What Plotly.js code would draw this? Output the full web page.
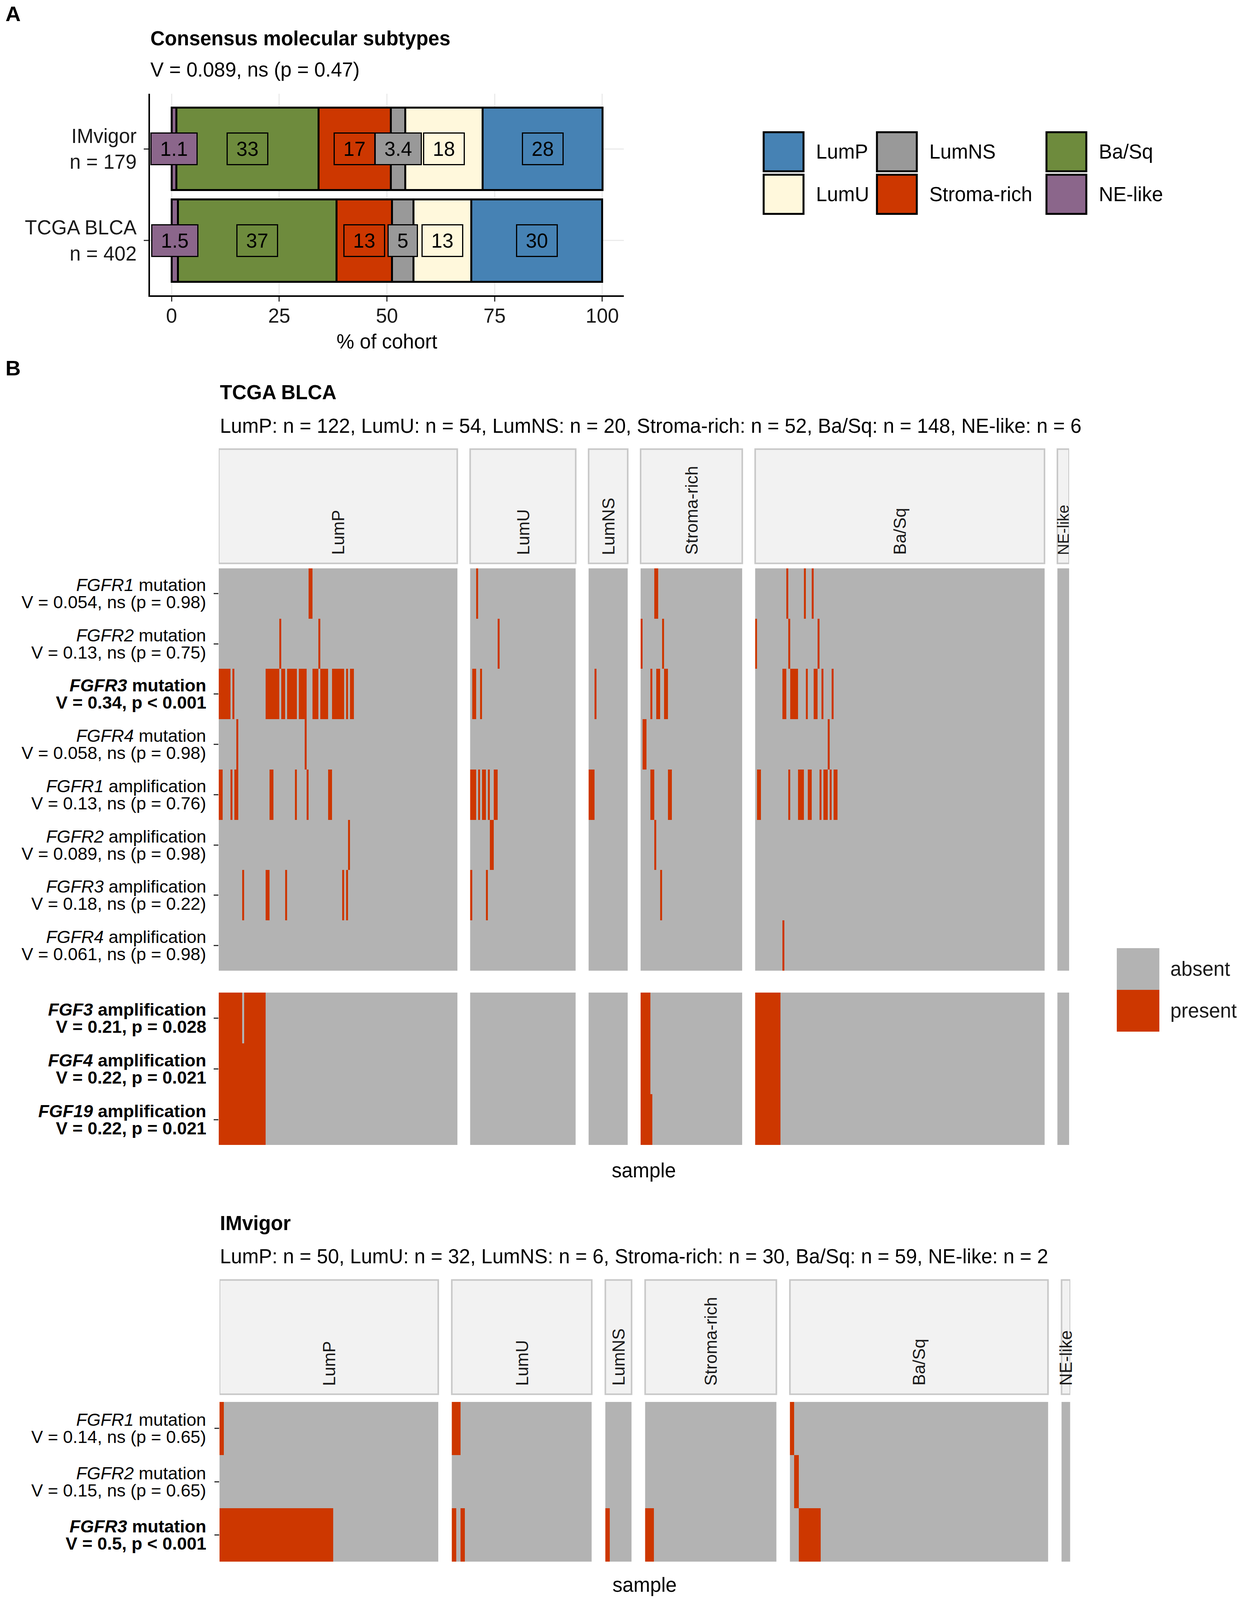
<!DOCTYPE html>
<html>
<head>
<meta charset="utf-8">
<script src="https://cdn.plot.ly/plotly-3.0.1.min.js"></script>
<style>html,body{margin:0;padding:0;background:#fff;overflow:hidden;}</style>
</head>
<body>
<div id="chart"></div>
<script>
// ================= DATA =================
// Panel A: % of cohort per consensus subtype (stack order left -> right)
const barCohorts = ['TCGA BLCA', 'IMvigor'];
const barCohortN = [402, 179];
const barSubtypes = ['NE-like', 'Ba/Sq', 'Stroma-rich', 'LumNS', 'LumU', 'LumP'];
const pctTCGA = [1.5, 36.8, 12.9, 5.0, 13.4, 30.4];
const pctIMvigor = [1.1, 33.0, 16.8, 3.4, 17.9, 27.9];
const legendSubtypes = ['LumP', 'LumU', 'LumNS', 'Stroma-rich', 'Ba/Sq', 'NE-like'];

// Panel B: samples per subtype (facet order)
const heatSubtypes = ['LumP', 'LumU', 'LumNS', 'Stroma-rich', 'Ba/Sq', 'NE-like'];
const tcgaCounts = [122, 54, 20, 52, 148, 6];
const imvigorCounts = [50, 32, 6, 30, 59, 2];

// TCGA row labels
const tcgaGenes = ['FGFR1', 'FGFR2', 'FGFR3', 'FGFR4', 'FGFR1', 'FGFR2', 'FGFR3', 'FGFR4'];
const tcgaKinds = ['mutation', 'mutation', 'mutation', 'mutation', 'amplification', 'amplification', 'amplification', 'amplification'];
const tcgaStats = ['V = 0.054, ns (p = 0.98)', 'V = 0.13, ns (p = 0.75)', 'V = 0.34, p &lt; 0.001', 'V = 0.058, ns (p = 0.98)',
                   'V = 0.13, ns (p = 0.76)', 'V = 0.089, ns (p = 0.98)', 'V = 0.18, ns (p = 0.22)', 'V = 0.061, ns (p = 0.98)'];
const tcgaBold = [false, false, true, false, false, false, false, false];
const fgfGenes = ['FGF3', 'FGF4', 'FGF19'];
const fgfKinds = ['amplification', 'amplification', 'amplification'];
const fgfStats = ['V = 0.21, p = 0.028', 'V = 0.22, p = 0.021', 'V = 0.22, p = 0.021'];
const fgfBold = [true, true, true];
const imvGenes = ['FGFR1', 'FGFR2', 'FGFR3'];
const imvKinds = ['mutation', 'mutation', 'mutation'];
const imvStats = ['V = 0.14, ns (p = 0.65)', 'V = 0.15, ns (p = 0.65)', 'V = 0.5, p &lt; 0.001'];
const imvBold = [false, false, true];

// TCGA: sample indices (0..401, ordered LumP, LumU, LumNS, Stroma-rich, Ba/Sq, NE-like) with alteration present
const tcgaFGFR1mut = [46, 47, 125, 203, 204, 264, 273, 277];
const tcgaFGFR2mut = [31, 51, 136, 196, 207, 248, 265, 280];
const tcgaFGFR3mut = [0, 1, 2, 3, 4, 5, 7, 24, 25, 26, 27, 28, 29, 30, 32, 33, 35, 36, 37, 38, 39, 41, 42, 43, 44,
                      48, 49, 50, 52, 53, 54, 55, 58, 59, 60, 61, 62, 63, 65, 67, 68,
                      123, 124, 127, 179, 201, 204, 205, 208, 209,
                      262, 263, 266, 267, 268, 269, 274, 278, 279, 282, 287];
const tcgaFGFR4mut = [9, 44, 197, 198, 285];
const tcgaFGFR1amp = [0, 1, 6, 8, 9, 26, 27, 39, 45, 56, 57,
                      122, 123, 124, 126, 128, 129, 131, 134, 135, 176, 177, 178, 201, 202, 210, 211,
                      249, 250, 265, 270, 271, 272, 275, 276, 281, 283, 284, 286, 288, 289];
const tcgaFGFR2amp = [66, 132, 133, 203];
const tcgaFGFR3amp = [12, 24, 25, 34, 63, 65, 122, 130, 206];
const tcgaFGFR4amp = [262];
const tcgaFGF3amp = [0, 1, 2, 3, 4, 5, 6, 7, 8, 9, 10, 11, 13, 14, 15, 16, 17, 18, 19, 20, 21, 22, 23,
                     196, 197, 198, 199, 200, 248, 249, 250, 251, 252, 253, 254, 255, 256, 257, 258, 259, 260];
const tcgaFGF4amp = [0, 1, 2, 3, 4, 5, 6, 7, 8, 9, 10, 11, 12, 13, 14, 15, 16, 17, 18, 19, 20, 21, 22, 23,
                     196, 197, 198, 199, 200, 248, 249, 250, 251, 252, 253, 254, 255, 256, 257, 258, 259, 260];
const tcgaFGF19amp = [0, 1, 2, 3, 4, 5, 6, 7, 8, 9, 10, 11, 12, 13, 14, 15, 16, 17, 18, 19, 20, 21, 22, 23,
                      196, 197, 198, 199, 200, 201, 248, 249, 250, 251, 252, 253, 254, 255, 256, 257, 258, 259, 260];

// IMvigor: sample indices (0..178, same subtype order)
const imvFGFR1mut = [0, 50, 51, 118];
const imvFGFR2mut = [119];
const imvFGFR3mut = [0, 1, 2, 3, 4, 5, 6, 7, 8, 9, 10, 11, 12, 13, 14, 15, 16, 17, 18, 19, 20, 21, 22, 23, 24, 25,
                     50, 52, 82, 88, 89, 120, 121, 122, 123, 124];

// ================= STYLE / LAYOUT =================
const REF_W = 3177, REF_H = 4175;
const VW = Math.min(REF_W, window.innerWidth || REF_W);
const VH = Math.min(REF_H, window.innerHeight || REF_H);
const px = v => v / REF_W;
const py = v => 1 - v / REF_H;
const FONT = 'Liberation Sans, Arial, Helvetica, sans-serif';
const RED = '#CD3700', GRAY = '#B3B3B3';
const subtypeColor = {'LumP': '#4682B4', 'LumU': '#FFF8DC', 'LumNS': '#999999',
                      'Stroma-rich': '#CD3700', 'Ba/Sq': '#6E8B3D', 'NE-like': '#8B668B'};
const TG = 6.6;   // facet gap (in samples) TCGA
const IG = 3.1;   // facet gap (in samples) IMvigor

const chartDiv = document.getElementById('chart');
chartDiv.style.width = VW + 'px';
chartDiv.style.height = VH + 'px';

const traces = [];
const annotations = [];
const shapes = [];

// ---------- Panel A bars ----------
const pctByCohort = [pctTCGA, pctIMvigor];
barSubtypes.forEach((s, j) => {
  traces.push({
    type: 'bar', orientation: 'h', name: s,
    y: barCohorts, x: pctByCohort.map(a => a[j]),
    width: 0.9, xaxis: 'x', yaxis: 'y', showlegend: false, hoverinfo: 'skip',
    marker: {color: subtypeColor[s], line: {color: '#000', width: 5}}
  });
});
pctByCohort.forEach((vals, c) => {
  let cum = 0;
  vals.forEach((v, j) => {
    const lab = String(Number(v.toPrecision(2)));
    const nd = (lab.match(/\d/g) || []).length;
    const ndot = lab.indexOf('.') >= 0 ? 1 : 0;
    annotations.push({
      xref: 'x', yref: 'y', x: cum + v / 2, y: barCohorts[c], text: lab, showarrow: false,
      font: {family: FONT, size: 51, color: '#000'},
      bgcolor: subtypeColor[barSubtypes[j]], bordercolor: '#000', borderwidth: 3, borderpad: 12,
      width: 28.4 * nd + 14.2 * ndot + 20, height: 54
    });
    cum += v;
  });
});

// Panel A texts
annotations.push({xref: 'paper', yref: 'paper', x: px(12), y: py(36), xanchor: 'left', yanchor: 'middle',
  text: '<b>A</b>', showarrow: false, font: {family: FONT, size: 54, color: '#000'}});
annotations.push({xref: 'paper', yref: 'paper', x: px(383), y: py(100), xanchor: 'left', yanchor: 'middle',
  text: '<b>Consensus molecular subtypes</b>', showarrow: false, font: {family: FONT, size: 51, color: '#000'}});
annotations.push({xref: 'paper', yref: 'paper', x: px(383), y: py(182), xanchor: 'left', yanchor: 'middle',
  text: 'V = 0.089, ns (p = 0.47)', showarrow: false, font: {family: FONT, size: 51, color: '#000'}});

// Panel A legend
const legColX = [1955, 2245, 2679];
const legRowY = [345, 456];
const KEY = 102;
legendSubtypes.forEach((s, i) => {
  const col = Math.floor(i / 2), row = i % 2;
  const x0 = legColX[col], y0 = legRowY[row];
  shapes.push({type: 'rect', xref: 'paper', yref: 'paper', x0: px(x0), x1: px(x0 + KEY), y0: py(y0 + KEY), y1: py(y0),
    fillcolor: subtypeColor[s], line: {color: '#000', width: 5}});
  annotations.push({xref: 'paper', yref: 'paper', x: px(x0 + KEY + 30), y: py(y0 + KEY / 2), xanchor: 'left', yanchor: 'middle',
    text: s, showarrow: false, font: {family: FONT, size: 51, color: '#000'}});
});

// ---------- Panel B heatmaps ----------
function buildBlock(counts, gap, rowSets, xa, ya) {
  let start = 0;
  counts.forEach((n, k) => {
    const xs = [], idx = [];
    for (let i = 0; i < n; i++) { idx.push(start + i); xs.push(start + i + k * gap); }
    const z = rowSets.map(set => idx.map(g => set.indexOf(g) >= 0 ? 1 : 0));
    traces.push({
      type: 'heatmap', x: xs, y: rowSets.map((_, r) => r), z: z,
      xaxis: xa, yaxis: ya, zmin: 0, zmax: 1, showscale: false, hoverinfo: 'skip',
      colorscale: [[0, GRAY], [0.5, GRAY], [0.5, RED], [1, RED]]
    });
    start += n;
  });
}
function buildStrips(counts, gap, xa, yTop, yBot) {
  let start = 0;
  counts.forEach((n, k) => {
    const x0 = start + k * gap - 0.5, x1 = start + n - 1 + k * gap + 0.5;
    shapes.push({type: 'rect', xref: xa, yref: 'paper', x0: x0, x1: x1, y0: py(yBot), y1: py(yTop),
      fillcolor: '#F2F2F2', line: {color: '#C8C8C8', width: 4}});
    annotations.push({xref: xa, yref: 'paper', x: (x0 + x1) / 2, y: py(yBot - 20), xanchor: 'center', yanchor: 'bottom',
      textangle: -90, text: heatSubtypes[k], showarrow: false,
      font: {family: FONT, size: n <= 6 && counts === tcgaCounts ? 40 : 44, color: '#1A1A1A'}});
    start += n;
  });
}
function rowLabels(genes, kinds, stats, bolds, ya) {
  genes.forEach((g, r) => {
    const l1 = '<i>' + g + '</i> ' + kinds[r];
    const l2 = stats[r];
    const b = bolds[r];
    annotations.push({xref: 'paper', yref: ya, x: px(530), y: r, yshift: 22, xanchor: 'right', yanchor: 'middle',
      text: b ? '<b>' + l1 + '</b>' : l1, showarrow: false, font: {family: FONT, size: 45, color: '#000'}});
    annotations.push({xref: 'paper', yref: ya, x: px(530), y: r, yshift: -22, xanchor: 'right', yanchor: 'middle',
      text: b ? '<b>' + l2 + '</b>' : l2, showarrow: false, font: {family: FONT, size: 45, color: '#000'}});
  });
}

buildBlock(tcgaCounts, TG, [tcgaFGFR1mut, tcgaFGFR2mut, tcgaFGFR3mut, tcgaFGFR4mut,
                            tcgaFGFR1amp, tcgaFGFR2amp, tcgaFGFR3amp, tcgaFGFR4amp], 'x2', 'y2');
buildBlock(tcgaCounts, TG, [tcgaFGF3amp, tcgaFGF4amp, tcgaFGF19amp], 'x2', 'y3');
buildBlock(imvigorCounts, IG, [imvFGFR1mut, imvFGFR2mut, imvFGFR3mut], 'x3', 'y4');
buildStrips(tcgaCounts, TG, 'x2', 1172, 1470);
buildStrips(imvigorCounts, IG, 'x3', 3340, 3638);
rowLabels(tcgaGenes, tcgaKinds, tcgaStats, tcgaBold, 'y2');
rowLabels(fgfGenes, fgfKinds, fgfStats, fgfBold, 'y3');
rowLabels(imvGenes, imvKinds, imvStats, imvBold, 'y4');

// Panel B texts
const bTexts = [
  {x: 12, y: 960, t: '<b>B</b>', s: 54},
  {x: 561, y: 1024, t: '<b>TCGA BLCA</b>', s: 51},
  {x: 561, y: 1112, t: heatSubtypes.map((s, k) => s + ': n = ' + tcgaCounts[k]).join(', '), s: 51},
  {x: 561, y: 3192, t: '<b>IMvigor</b>', s: 51},
  {x: 561, y: 3279, t: heatSubtypes.map((s, k) => s + ': n = ' + imvigorCounts[k]).join(', '), s: 51}
];
bTexts.forEach(o => annotations.push({xref: 'paper', yref: 'paper', x: px(o.x), y: py(o.y), xanchor: 'left', yanchor: 'middle',
  text: o.t, showarrow: false, font: {family: FONT, size: o.s, color: '#000'}}));
annotations.push({xref: 'paper', yref: 'paper', x: px(1648), y: py(3054), xanchor: 'center', yanchor: 'middle',
  text: 'sample', showarrow: false, font: {family: FONT, size: 51, color: '#000'}});
annotations.push({xref: 'paper', yref: 'paper', x: px(1650), y: py(4136), xanchor: 'center', yanchor: 'middle',
  text: 'sample', showarrow: false, font: {family: FONT, size: 51, color: '#000'}});

// Heatmap legend
const heatLegend = [['absent', GRAY], ['present', RED]];
heatLegend.forEach((e, i) => {
  const y0 = 2474 + i * 109;
  shapes.push({type: 'rect', xref: 'paper', yref: 'paper', x0: px(2859), x1: px(2968), y0: py(y0 + 109), y1: py(y0),
    fillcolor: e[1], line: {width: 0}});
  annotations.push({xref: 'paper', yref: 'paper', x: px(2994), y: py(y0 + 54), xanchor: 'left', yanchor: 'middle',
    text: e[0], showarrow: false, font: {family: FONT, size: 51, color: '#1A1A1A'}});
});

// ---------- Axes ----------
const hideX = {showgrid: false, zeroline: false, showline: false, showticklabels: false, ticks: '', fixedrange: true};
const heatY = {tickmode: 'array', ticks: 'outside', ticklen: 12, tickwidth: 3, tickcolor: '#333',
  showticklabels: false, showgrid: false, zeroline: false, showline: false, fixedrange: true};
const tcgaTotal = tcgaCounts.reduce((a, b) => a + b, 0);
const imvTotal = imvigorCounts.reduce((a, b) => a + b, 0);

const layout = {
  width: VW, height: VH,
  margin: {l: 0, r: 0, t: 0, b: 0, pad: 0},
  paper_bgcolor: '#fff', plot_bgcolor: '#fff',
  font: {family: FONT, color: '#000'},
  barmode: 'stack', bargap: 0.1,
  showlegend: false, hovermode: false,
  xaxis: {
    domain: [px(384), px(1597)], anchor: 'y', range: [-5, 105],
    tickmode: 'array', tickvals: [0, 25, 50, 75, 100],
    showgrid: true, gridcolor: '#EBEBEB', gridwidth: 3, zeroline: false,
    showline: true, linecolor: '#000', linewidth: 4,
    ticks: 'outside', ticklen: 12, tickwidth: 3, tickcolor: '#333', ticklabelstandoff: -8,
    tickfont: {family: FONT, size: 51, color: '#1A1A1A'},
    title: {text: '% of cohort', font: {family: FONT, size: 51, color: '#000'}, standoff: 22},
    fixedrange: true
  },
  yaxis: {
    domain: [py(771), py(245)], anchor: 'x', type: 'category',
    categoryorder: 'array', categoryarray: barCohorts, range: [-0.6, 1.6],
    tickmode: 'array', tickvals: barCohorts,
    ticktext: barCohorts.map((c, i) => c + '<br>n = ' + barCohortN[i]),
    showgrid: true, gridcolor: '#EBEBEB', gridwidth: 3, zeroline: false,
    showline: true, linecolor: '#000', linewidth: 4,
    ticks: 'outside', ticklen: 12, tickwidth: 3, tickcolor: '#333', ticklabelstandoff: 8,
    tickfont: {family: FONT, size: 51, color: '#1A1A1A'},
    fixedrange: true
  },
  xaxis2: Object.assign({}, hideX, {domain: [px(560), px(2737)], anchor: 'y2', range: [-0.5, tcgaTotal - 0.5 + 5 * TG]}),
  yaxis2: Object.assign({}, heatY, {domain: [py(2533), py(1483)], anchor: 'x2', range: [7.5, -0.5], tickvals: [0, 1, 2, 3, 4, 5, 6, 7]}),
  yaxis3: Object.assign({}, heatY, {domain: [py(2988), py(2590)], anchor: 'x2', range: [2.5, -0.5], tickvals: [0, 1, 2]}),
  xaxis3: Object.assign({}, hideX, {domain: [px(562), px(2740)], anchor: 'y4', range: [-0.5, imvTotal - 0.5 + 5 * IG]}),
  yaxis4: Object.assign({}, heatY, {domain: [py(4075), py(3658)], anchor: 'x3', range: [2.5, -0.5], tickvals: [0, 1, 2]}),
  annotations: annotations,
  shapes: shapes
};

Plotly.newPlot(chartDiv, traces, layout, {displayModeBar: false, staticPlot: true});
</script>
</body>
</html>
